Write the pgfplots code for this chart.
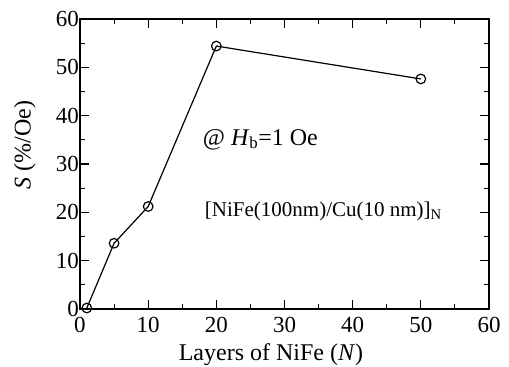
\documentclass[border=0pt]{standalone}
\usepackage{fontspec}
\setmainfont{Liberation Serif}
\usepackage{pgfplots}
\pgfplotsset{compat=1.18}
\begin{document}
\begin{tikzpicture}
\begin{axis}[
 name=ax, scale only axis, width=409pt, height=290pt,
 xmin=0,xmax=60,ymin=0,ymax=60,
 xtick={0,10,...,60}, ytick={0,10,...,60},
 minor tick num=1,
 tick align=inside,
 major tick length=9pt, minor tick length=5pt,
 axis line style={line width=1.4pt},
 every tick/.style={line width=1.1pt, black},
 tick label style={font=\fontsize{23}{25}\selectfont},
 /pgf/number format/assume math mode=true,
 xticklabel style={inner sep=0pt, yshift=-8.5pt},
 yticklabel style={inner xsep=1pt, inner ysep=0pt},
 xlabel={Layers of NiFe (\textit{N})},
 ylabel={\textit{S} (\%/Oe)},
 xlabel style={font=\fontsize{24}{26}\selectfont, at={(axis description cs:0.467,-0.176)}, anchor=base},
 ylabel style={font=\fontsize{24}{26}\selectfont, at={(axis description cs:-0.121,0.565)}, anchor=base, rotate=0},
 clip=false,
]
\addplot[black, line width=1.2pt, mark=o, mark size=4.8pt, mark options={fill=white, line width=1.2pt, solid}]
 coordinates {(1,0.2) (5,13.6) (10,21.2) (20,54.4) (50,47.6)};
\node[anchor=base west, inner sep=0pt, font=\fontsize{24}{26}\selectfont] at (axis cs:18,33.9) {@ \textit{H}\textsubscript{b}=1 Oe};
\node[anchor=base west, inner sep=0pt, font=\fontsize{21}{23}\selectfont] at (axis cs:18.3,19.1) {[NiFe(100nm)/Cu(10 nm)]\textsubscript{N}};
\end{axis}
\pgfresetboundingbox
\path (ax.south west) ++(-80pt,-58pt) coordinate (bl);
\path (ax.north east) ++(20pt,19pt) coordinate (tr);
\path[use as bounding box] (bl) rectangle (tr);
\end{tikzpicture}
\end{document}
